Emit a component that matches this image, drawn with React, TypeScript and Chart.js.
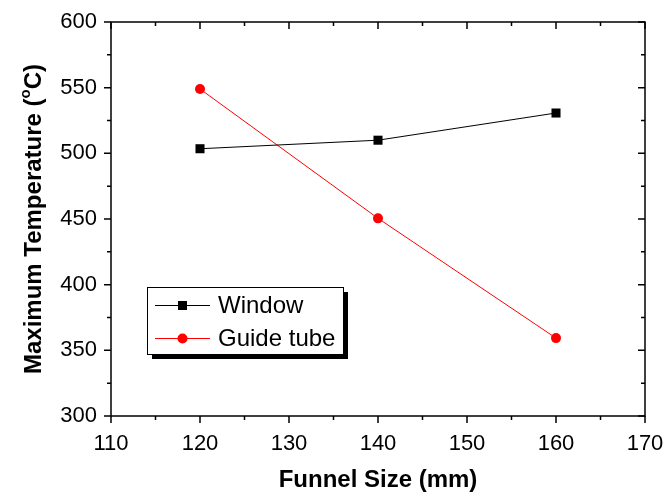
import React, { useEffect, useRef } from "react";
import { Chart, registerables } from "chart.js";

Chart.register(...registerables);

const funnelSize = [120, 140, 160];
const windowTemp = [503.5, 510, 530.7];
const guideTubeTemp = [549, 450.5, 359.3];
const xTicks = [110, 120, 130, 140, 150, 160, 170];
const yTicks = [300, 350, 400, 450, 500, 550, 600];
const seriesNames = ["Window", "Guide tube"];

const FONT = "Arial, 'Liberation Sans', sans-serif";

const framePlugin = {
  id: "frame",
  afterDraw(chart: any) {
    const { ctx, chartArea } = chart;
    const { left, right, top, bottom } = chartArea;
    const xs = chart.scales.x;
    const ys = chart.scales.y;
    ctx.save();
    ctx.strokeStyle = "#000";
    ctx.lineWidth = 1.5;
    ctx.strokeRect(left, top, right - left, bottom - top);
    ctx.lineWidth = 1.5;
    const major = 7;
    const minor = 4;
    for (let i = 0; i < xTicks.length; i++) {
      const v = xTicks[i];
      const px = xs.getPixelForValue(v);
      ctx.beginPath();
      ctx.moveTo(px, bottom);
      ctx.lineTo(px, bottom + major);
      ctx.moveTo(px, top);
      ctx.lineTo(px, top + major);
      ctx.stroke();
      if (i < xTicks.length - 1) {
        const mv = (v + xTicks[i + 1]) / 2;
        const mp = xs.getPixelForValue(mv);
        ctx.beginPath();
        ctx.moveTo(mp, bottom);
        ctx.lineTo(mp, bottom + minor);
        ctx.moveTo(mp, top);
        ctx.lineTo(mp, top + minor);
        ctx.stroke();
      }
    }
    for (let i = 0; i < yTicks.length; i++) {
      const v = yTicks[i];
      const py = ys.getPixelForValue(v);
      ctx.beginPath();
      ctx.moveTo(left, py);
      ctx.lineTo(left - major, py);
      ctx.moveTo(right, py);
      ctx.lineTo(right - major, py);
      ctx.stroke();
      if (i < yTicks.length - 1) {
        const mv = (v + yTicks[i + 1]) / 2;
        const mp = ys.getPixelForValue(mv);
        ctx.beginPath();
        ctx.moveTo(left, mp);
        ctx.lineTo(left - minor, mp);
        ctx.moveTo(right, mp);
        ctx.lineTo(right - minor, mp);
        ctx.stroke();
      }
    }

    // y-axis title with superscript
    ctx.fillStyle = "#000";
    const main = "Maximum Temperature (";
    const sup = "o";
    const tail = "C)";
    ctx.font = `bold 24px ${FONT}`;
    const w1 = ctx.measureText(main).width;
    const w3 = ctx.measureText(tail).width;
    ctx.font = `bold 15px ${FONT}`;
    const w2 = ctx.measureText(sup).width;
    const total = w1 + w2 + w3;
    const cy = (top + bottom) / 2;
    ctx.translate(34, cy);
    ctx.rotate(-Math.PI / 2);
    ctx.textBaseline = "middle";
    ctx.textAlign = "left";
    let x0 = -total / 2;
    ctx.font = `bold 24px ${FONT}`;
    ctx.fillText(main, x0, 0);
    x0 += w1;
    ctx.font = `bold 15px ${FONT}`;
    ctx.fillText(sup, x0, -8);
    x0 += w2;
    ctx.font = `bold 24px ${FONT}`;
    ctx.fillText(tail, x0, 0);
    ctx.restore();

    // legend
    ctx.save();
    const lx = 147, ly = 287, lw = 196, lh = 67;
    ctx.fillStyle = "#000";
    ctx.fillRect(lx + 5, ly + 5, lw, lh);
    ctx.fillStyle = "#fff";
    ctx.fillRect(lx, ly, lw, lh);
    ctx.strokeStyle = "#000";
    ctx.lineWidth = 1;
    ctx.strokeRect(lx + 0.5, ly + 0.5, lw, lh);
    const rows = [
      { y: 305, color: "#000", style: "rect" },
      { y: 338, color: "#ff0000", style: "circle" },
    ];
    rows.forEach((r, i) => {
      ctx.strokeStyle = r.color;
      ctx.lineWidth = 1;
      ctx.beginPath();
      ctx.moveTo(155, r.y + 0.5);
      ctx.lineTo(210, r.y + 0.5);
      ctx.stroke();
      ctx.fillStyle = r.color;
      if (r.style === "rect") {
        ctx.fillRect(178, r.y - 4, 9, 9);
      } else {
        ctx.beginPath();
        ctx.arc(182.5, r.y + 0.5, 5, 0, Math.PI * 2);
        ctx.fill();
      }
      ctx.fillStyle = "#000";
      ctx.font = `24px ${FONT}`;
      ctx.textAlign = "left";
      ctx.textBaseline = "middle";
      ctx.fillText(seriesNames[i], 218, r.y + 1);
    });
    ctx.restore();
  },
};

const zeroPad = (s: any) => {
  s.paddingLeft = 0;
  s.paddingRight = 0;
  s.paddingTop = 0;
  s.paddingBottom = 0;
};

export default function App() {
  const ref = useRef<HTMLCanvasElement | null>(null);
  useEffect(() => {
    if (!ref.current) return;
    const chart = new Chart(ref.current, {
      type: "line",
      data: {
        datasets: [
          {
            label: seriesNames[0],
            data: funnelSize.map((x, i) => ({ x, y: windowTemp[i] })),
            borderColor: "#000",
            backgroundColor: "#000",
            borderWidth: 1,
            pointStyle: "rect",
            pointRadius: 6.4,
            pointBorderWidth: 0,
            tension: 0,
          },
          {
            label: seriesNames[1],
            data: funnelSize.map((x, i) => ({ x, y: guideTubeTemp[i] })),
            borderColor: "#ff0000",
            backgroundColor: "#ff0000",
            borderWidth: 1,
            pointStyle: "circle",
            pointRadius: 5,
            pointBorderWidth: 0,
            tension: 0,
          },
        ],
      },
      options: {
        animation: false,
        responsive: false,
        maintainAspectRatio: false,
        layout: { padding: { top: 22, right: 22, left: 0, bottom: 0 } },
        plugins: {
          legend: { display: false },
          tooltip: { enabled: false },
        },
        scales: {
          x: {
            type: "linear",
            min: 110,
            max: 170,
            afterBuildTicks: (s: any) => {
              s.ticks = xTicks.map((v) => ({ value: v }));
            },
            afterFit: (s: any) => {
              s.height = 82;
              zeroPad(s);
            },
            grid: { display: false, drawTicks: false },
            border: { display: false },
            ticks: {
              color: "#000",
              font: { family: FONT, size: 22 },
              padding: 15,
              maxRotation: 0,
            },
            title: {
              display: true,
              text: "Funnel Size (mm)",
              color: "#000",
              font: { family: FONT, size: 24, weight: "bold" },
              padding: { top: 0, bottom: 3 },
            },
          },
          y: {
            type: "linear",
            min: 300,
            max: 600,
            afterBuildTicks: (s: any) => {
              s.ticks = yTicks.map((v) => ({ value: v }));
            },
            afterFit: (s: any) => {
              s.width = 111;
              zeroPad(s);
            },
            grid: { display: false, drawTicks: false },
            border: { display: false },
            ticks: {
              color: "#000",
              font: { family: FONT, size: 22 },
              padding: 14,
            },
          },
        },
      },
      plugins: [framePlugin],
    });
    return () => chart.destroy();
  }, []);
  return (
    <div style={{ position: "absolute", left: 0, top: 0, width: 667, height: 498, background: "#fff" }}>
      <canvas ref={ref} width={667} height={498} />
    </div>
  );
}
